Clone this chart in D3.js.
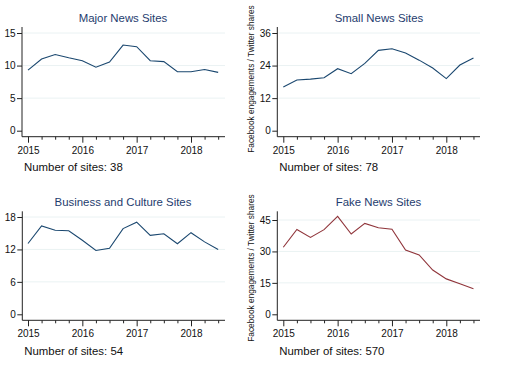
<!DOCTYPE html>
<html><head><meta charset="utf-8">
<script src="https://cdn.jsdelivr.net/npm/d3@7"></script>
<style>body{margin:0;background:#fff}svg{display:block;font-family:"Liberation Sans",Arial,sans-serif}</style>
</head><body>
<svg id="c" width="508" height="376"></svg>
<script>
const quarters = [2015,2015.25,2015.5,2015.75,2016,2016.25,2016.5,2016.75,2017,2017.25,2017.5,2017.75,2018,2018.25,2018.5];
const yearTicks = [2015,2016,2017,2018];
const majorNews = [9.3,11.0,11.7,11.2,10.75,9.75,10.55,13.15,12.9,10.75,10.6,9.05,9.05,9.4,8.95];
const smallNews = [16.1,18.7,19.0,19.5,22.85,21.0,24.8,29.6,30.2,28.6,26.0,23.1,19.2,24.2,26.8];
const businessCulture = [13.1,16.35,15.55,15.45,13.7,11.8,12.2,15.85,17.05,14.6,14.9,13.05,15.1,13.4,12.0];
const fakeNews = [32.0,40.5,36.7,40.4,46.7,38.3,43.4,41.3,40.6,30.7,28.3,21.1,16.9,14.6,12.2];
const titles = ["Major News Sites","Small News Sites","Business and Culture Sites","Fake News Sites"];
const siteCounts = [38,78,54,570];
const yTicks = [[0,5,10,15],[0,12,24,36],[0,6,12,18],[0,15,30,45]];
const yLabel = "Facebook engagements / Twitter shares";

const series = [majorNews, smallNews, businessCulture, fakeNews];
const colors = ["#1a476f","#1a476f","#1a476f","#90353b"];
// layout per panel
const panels = [
  {ax:22, x0:28, x1:191, xr:225, y0:130.7, yt:33, axTop:27, axBot:136.7, tx:123, ty:22, tickY:154.5, nY:171},
  {ax:277.3, x0:283.3, x1:446.3, xr:480, y0:130.7, yt:33, axTop:27, axBot:136.7, tx:379, ty:22, tickY:154.5, nY:171, ylab:true, ylabY:79},
  {ax:22.3, x0:28, x1:191, xr:225, y0:314.3, yt:217, axTop:211.3, axBot:320.3, tx:123, ty:205.5, tickY:338, nY:354.5},
  {ax:277.3, x0:283.3, x1:446.3, xr:480, y0:314.3, yt:220, axTop:211.3, axBot:320.3, tx:378.5, ty:205.5, tickY:338, nY:354.5, ylab:true, ylabY:268}
];
const svg = d3.select("#c");
panels.forEach((p,i)=>{
  const g = svg.append("g");
  const ticks = yTicks[i];
  const x = d3.scaleLinear().domain([2015,2018]).range([p.x0,p.x1]);
  const y = d3.scaleLinear().domain([0,ticks[ticks.length-1]]).range([p.y0,p.yt]);
  // gridlines
  g.selectAll("line.grid").data(ticks.slice(1)).join("line")
    .attr("x1",p.ax+1).attr("x2",p.xr).attr("y1",d=>y(d)).attr("y2",d=>y(d))
    .attr("stroke","#eaf2f3").attr("stroke-width",1);
  // y axis
  const ya = g.append("g").attr("transform",`translate(${p.ax},0)`)
    .call(d3.axisLeft(y).tickValues(ticks).tickSize(5).tickPadding(1.5));
  ya.select(".domain").attr("d",`M0,${p.axTop}V${p.axBot}`).attr("stroke","#222");
  ya.selectAll(".tick line").attr("stroke","#222");
  ya.selectAll("text").attr("font-size",10).attr("fill","#111").attr("font-family","Liberation Sans, Arial");
  // x axis minor
  const xa = g.append("g").attr("transform",`translate(0,${p.axBot})`);
  xa.call(d3.axisBottom(x).tickValues(quarters.filter(q=>!yearTicks.includes(q))).tickSize(3).tickFormat(""));
  xa.select(".domain").remove();
  xa.selectAll(".tick line").attr("stroke","#222");
  const xb = g.append("g").attr("transform",`translate(0,${p.axBot})`);
  xb.call(d3.axisBottom(x).tickValues(yearTicks).tickSize(6).tickFormat(d3.format("d")).tickPadding(4));
  xb.select(".domain").attr("d",`M${p.ax},0H${p.xr}`).attr("stroke","#222");
  xb.selectAll(".tick line").attr("stroke","#222");
  xb.selectAll("text").attr("font-size",10).attr("fill","#111").attr("font-family","Liberation Sans, Arial");
  // line
  g.append("path").datum(series[i].map((v,k)=>[quarters[k],v]))
    .attr("fill","none").attr("stroke",colors[i]).attr("stroke-width",1.1)
    .attr("d",d3.line().x(d=>x(d[0])).y(d=>y(d[1])));
  // title
  g.append("text").attr("x",p.tx).attr("y",p.ty).attr("text-anchor","middle")
    .attr("font-size",11.4).attr("fill","#1e3c6e").text(titles[i]);
  g.append("text").attr("x",p.ax+2).attr("y",p.nY).attr("font-size",11.4).attr("fill","#111")
    .text("Number of sites: "+siteCounts[i]);
  if(p.ylab){
    g.append("text").attr("transform",`translate(253.5,${p.ylabY}) rotate(-90)`)
      .attr("text-anchor","middle").attr("font-size",8.3).attr("fill","#111").text(yLabel);
  }
});
</script>
</body></html>
